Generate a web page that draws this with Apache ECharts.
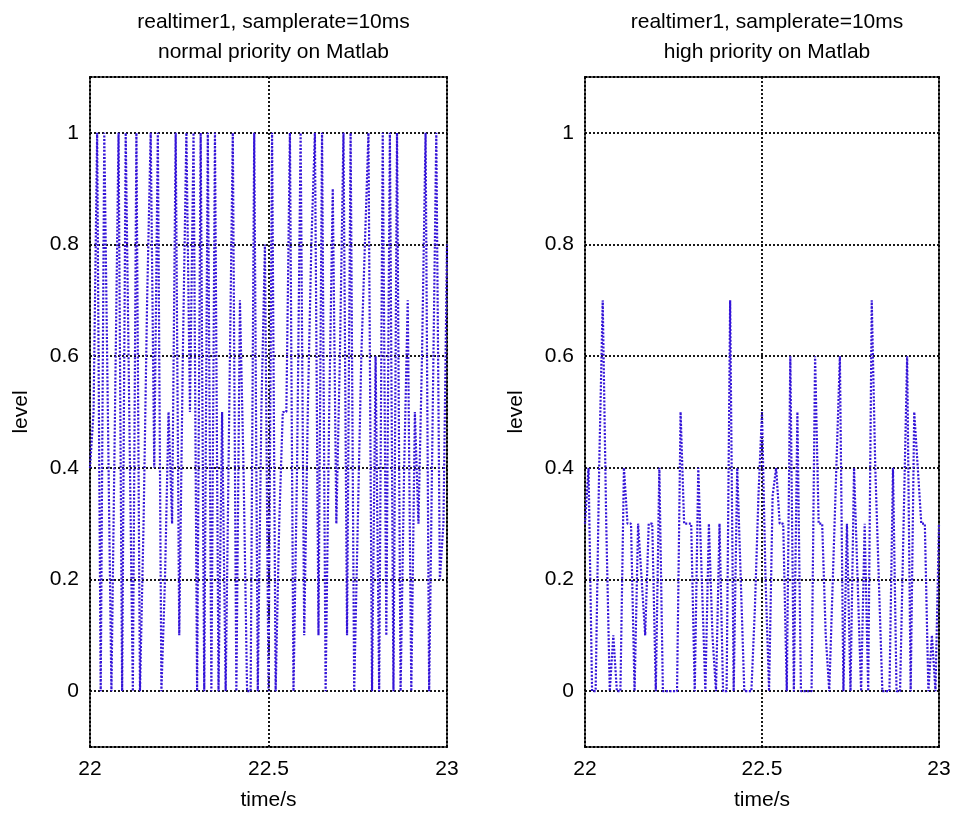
<!DOCTYPE html>
<html>
<head>
<meta charset="utf-8">
<script src="https://cdn.jsdelivr.net/npm/echarts@6/dist/echarts.min.js"></script>
<style>
html,body{margin:0;padding:0;background:#fff;}
#chart{width:955px;height:821px;}
</style>
</head>
<body>
<div id="chart"></div>
<script>
// ---- data ----
const titles = [
  'realtimer1, samplerate=10ms\nnormal priority on Matlab',
  'realtimer1, samplerate=10ms\nhigh priority on Matlab'
];
const tStart = 22;           // s
const sampleStep = 0.01;     // 10 ms
const xTicks = [22, 22.5, 23];
const yTicks = [0, 0.2, 0.4, 0.6, 0.8, 1];

const levelNormal = [
  0.4, 0.5, 1, 0, 1, 0.5, 0, 0.5, 1, 0,
  1, 0.5, 0, 1, 0, 0.3, 0.7, 1, 0.4, 1,
  0, 0.2, 0.5, 0.3, 1, 0.1, 0.6, 1, 0.5, 1,
  0, 1, 0, 1, 0, 1, 0, 0.5, 0, 0.5,
  1, 0, 0.7, 0.4, 0, 0, 1, 0, 0.5, 0.8,
  0, 1, 0, 0.3, 0.5, 0.5, 1, 0, 0.4, 1,
  0.1, 0.5, 0.8, 1, 0.1, 1, 0, 0.5, 0.9, 0.3,
  0.6, 1, 0.1, 1, 0, 0.3, 0.6, 0.8, 1, 0,
  0.6, 0, 1, 0.1, 1, 0, 1, 0, 0.4, 0.7,
  0, 0.5, 0.3, 0.6, 1, 0, 0.5, 1, 0.2, 0.3,
  0.8
];
const levelHigh = [
  0.3, 0.4, 0, 0, 0.4, 0.7, 0.3, 0, 0.1, 0,
  0, 0.4, 0.3, 0.3, 0, 0.3, 0.2, 0.1, 0.3, 0.3,
  0, 0.4, 0, 0, 0, 0, 0, 0.5, 0.3, 0.3,
  0.3, 0, 0.4, 0.2, 0, 0.3, 0.1, 0, 0.3, 0,
  0, 0.7, 0, 0.4, 0.2, 0, 0, 0, 0.15, 0.35,
  0.5, 0.2, 0, 0.35, 0.4, 0.3, 0.3, 0, 0.6, 0,
  0.5, 0, 0, 0, 0, 0.6, 0.3, 0.3, 0.1, 0,
  0.2, 0.4, 0.6, 0, 0.3, 0, 0.4, 0.2, 0, 0.3,
  0, 0.7, 0.4, 0.2, 0, 0, 0, 0.4, 0, 0,
  0.3, 0.6, 0, 0.5, 0.4, 0.3, 0.3, 0, 0.1, 0,
  0.3
];

// ---- chart ----
const FONT = 'Liberation Sans, Arial, sans-serif';
const FS = 21;
const dotted = { color: '#000', width: 1.8, type: [2, 2] };
const toPairs = arr => arr.map((v, i) => [+(tStart + i * sampleStep).toFixed(2), v]);

const grids = [
  { left: 90, top: 77, width: 357, height: 670 },
  { left: 585, top: 77, width: 354, height: 670 }
];

const xAxis = [], yAxis = [];
grids.forEach((g, gi) => {
  xAxis.push({
    type: 'value', gridIndex: gi, min: xTicks[0], max: xTicks[xTicks.length - 1], interval: 0.5,
    position: 'bottom',
    axisLine: { show: true, onZero: false, lineStyle: dotted },
    axisTick: { show: false },
    axisLabel: { color: '#000', fontSize: FS, fontFamily: FONT, margin: 12 },
    splitLine: { show: true, lineStyle: dotted },
    name: 'time/s', nameLocation: 'middle', nameGap: 43,
    nameTextStyle: { color: '#000', fontSize: FS, fontFamily: FONT }
  });
  xAxis.push({
    type: 'value', gridIndex: gi, min: xTicks[0], max: xTicks[xTicks.length - 1], interval: 0.5,
    position: 'top',
    axisLine: { show: true, onZero: false, lineStyle: dotted },
    axisTick: { show: false }, axisLabel: { show: false }, splitLine: { show: false }
  });
  yAxis.push({
    type: 'value', gridIndex: gi, min: -0.1, max: 1.1,
    position: 'left',
    axisLine: { show: true, onZero: false, lineStyle: dotted },
    axisTick: { show: false, customValues: yTicks },
    axisLabel: { color: '#000', fontSize: FS, fontFamily: FONT, margin: 11, customValues: yTicks },
    splitLine: { show: true, lineStyle: dotted },
    name: 'level', nameLocation: 'middle', nameGap: 58, nameRotate: 90,
    nameTextStyle: { color: '#000', fontSize: FS, fontFamily: FONT }
  });
  yAxis.push({
    type: 'value', gridIndex: gi, min: -0.1, max: 1.1,
    position: 'right',
    axisLine: { show: true, onZero: false, lineStyle: dotted },
    axisTick: { show: false }, axisLabel: { show: false }, splitLine: { show: false }
  });
});

const series = [levelNormal, levelHigh].map((arr, gi) => ({
  type: 'line',
  xAxisIndex: gi * 2, yAxisIndex: gi * 2,
  data: toPairs(arr),
  showSymbol: false, symbol: 'none',
  lineStyle: { color: '#3414d8', width: 2.2, type: [2, 1.6] },
  animation: false, z: 3
}));

const option = {
  backgroundColor: '#fff',
  animation: false,
  title: titles.map((t, gi) => ({
    text: t,
    left: grids[gi].left + grids[gi].width / 2,
    top: 2,
    textAlign: 'center',
    textStyle: { color: '#000', fontSize: FS, fontWeight: 'normal', fontFamily: FONT, lineHeight: 30 }
  })),
  grid: grids,
  xAxis, yAxis, series
};

const chart = echarts.init(document.getElementById('chart'), null, { renderer: 'canvas' });
chart.setOption(option);
</script>
</body>
</html>
